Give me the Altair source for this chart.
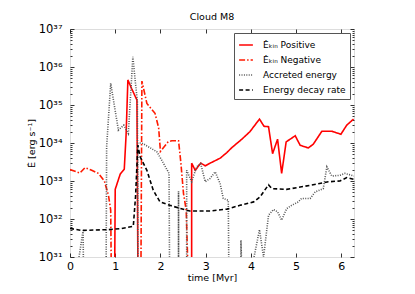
import altair as alt
import pandas as pd

FLOOR = 31.0  # log10 of the lower edge (values at/below are drawn to the axis floor)

# ---- data (time in Myr, log10 of energy rate in erg/s) ----
pos_a_t = [0.99, 1.0, 1.11, 1.2, 1.24, 1.28, 1.36, 1.48, 1.5]
pos_a_v = [31.0, 32.78, 33.18, 33.31, 34.2, 35.66, 35.44, 35.13, 31.0]
pos_b_t = [2.69, 2.69, 2.77, 2.89, 2.99, 3.1, 3.32, 3.47, 3.58, 3.8, 3.98, 4.19, 4.29, 4.39,
           4.48, 4.59, 4.68, 4.78, 4.98, 5.09, 5.27, 5.38, 5.57, 5.79, 5.99, 6.12, 6.27]
pos_b_v = [31.0, 33.47, 33.28, 33.47, 33.4, 33.47, 33.6, 33.75, 33.88, 34.1, 34.3, 34.63, 34.44, 34.43,
           33.72, 34.1, 33.2, 34.03, 34.19, 33.94, 33.87, 33.97, 34.31, 34.31, 34.23, 34.47, 34.63]

neg_a_t = [0.0, 0.15, 0.22, 0.33, 0.48, 0.63, 0.76, 0.85, 0.9, 0.91]
neg_a_v = [33.3, 33.24, 33.21, 33.35, 33.28, 33.2, 33.0, 32.63, 32.23, 31.0]
neg_b_t = [1.57, 1.59, 1.7, 1.88, 1.96, 2.0, 2.17, 2.25, 2.4, 2.45, 2.51, 2.57, 2.6]
neg_b_v = [31.0, 35.63, 35.04, 34.78, 34.4, 33.78, 34.03, 34.06, 34.06, 33.5, 32.67, 32.23, 31.0]

acc_a_t = [0.2, 0.29, 0.295]
acc_a_v = [31.0, 31.7, 31.0]
acc_b_t = [0.8, 0.81, 0.9, 1.07, 1.19, 1.29, 1.39, 1.44, 1.49, 1.5, 1.5, 1.59, 1.92, 2.07, 2.19, 2.2]
acc_b_v = [31.0, 33.9, 35.57, 34.34, 34.47, 34.25, 36.27, 35.66, 35.1, 31.0, 34.0, 34.0, 33.77, 33.46, 33.2, 31.0]
acc_c_t = [2.4, 2.4, 2.4, 2.4]
acc_c_v = [31.0, 32.73, 31.0, 32.73]
acc_d_t = [2.58, 2.58, 2.69, 2.8, 2.89, 2.99, 3.1, 3.21, 3.32, 3.39, 3.5, 3.51]
acc_d_v = [31.0, 33.28, 32.98, 33.37, 33.46, 32.98, 33.07, 33.24, 32.93, 32.54, 32.49, 31.0]
acc_e_t = [3.78, 3.78, 3.79]
acc_e_v = [31.0, 31.44, 31.0]
acc_f_t = [4.07, 4.19, 4.28, 4.39, 4.5, 4.59, 4.68, 4.79, 4.9, 5.05, 5.12, 5.31, 5.42, 5.6,
           5.68, 5.79, 5.97, 6.08, 6.28]
acc_f_v = [31.0, 31.72, 31.0, 32.1, 32.25, 32.19, 31.97, 32.27, 32.36, 32.45, 32.54, 32.54, 32.71, 32.8,
           33.37, 33.13, 33.15, 33.2, 33.13]

dec_t = [0.0, 0.26, 0.85, 1.14, 1.4, 1.45, 1.5, 1.55, 1.7, 1.84, 1.99, 2.21, 2.43, 2.65, 3.1,
         3.47, 3.76, 4.06, 4.2, 4.39, 4.46, 4.79, 5.09, 5.46, 5.71, 5.97, 6.12, 6.28]
dec_v = [31.75, 31.7, 31.72, 31.75, 31.81, 32.6, 33.94, 33.64, 33.28, 32.76, 32.45, 32.36, 32.28, 32.21, 32.21,
         32.26, 32.36, 32.45, 32.58, 32.9, 32.8, 32.78, 32.84, 32.92, 32.98, 33.0, 33.09, 33.04]

series_names = ["Ėₖᵢₙ Positive", "Ėₖᵢₙ Negative", "Accreted energy", "Energy decay rate"]
series_colors = ["#ff0000", "#ff1a00", "#555555", "#000000"]
series_dashes = [[1, 0], [6, 2, 1.5, 2], [1, 1.4], [4, 2.5]]
series_widths = [1.6, 1.6, 1.1, 1.0]

x_ticks = [0, 1, 2, 3, 4, 5, 6]
y_major = [1e31, 1e32, 1e33, 1e34, 1e35, 1e36, 1e37]
y_minor = [m * 10.0 ** e for e in range(31, 37) for m in range(2, 10)]

segments = [
    (series_names[0], "p1", pos_a_t, pos_a_v),
    (series_names[0], "p2", pos_b_t, pos_b_v),
    (series_names[1], "n1", neg_a_t, neg_a_v),
    (series_names[1], "n2", neg_b_t, neg_b_v),
    (series_names[2], "a1", acc_a_t, acc_a_v),
    (series_names[2], "a2", acc_b_t, acc_b_v),
    (series_names[2], "a3", acc_c_t, acc_c_v),
    (series_names[2], "a4", acc_d_t, acc_d_v),
    (series_names[2], "a5", acc_e_t, acc_e_v),
    (series_names[2], "a6", acc_f_t, acc_f_v),
    (series_names[3], "d1", dec_t, dec_v),
]
rows = []
i = 0
for name, key, ts, vs in segments:
    for t, v in zip(ts, vs):
        rows.append({"t": t, "E": 10.0 ** v, "series": name, "key": key, "i": i})
        i += 1
df = pd.DataFrame(rows)

W, H = 284, 228
FONT = "DejaVu Sans"

xscale = alt.Scale(domain=[0, 6.28], nice=False, zero=False)
yscale = alt.Scale(type="log", domain=[1e31, 1e37], nice=False)

sup = {"31": "³¹", "32": "³²", "33": "³³", "34": "³⁴", "35": "³⁵", "36": "³⁶", "37": "³⁷"}
expr = "''"
for k in ["37", "36", "35", "34", "33", "32", "31"]:
    expr = f"(round(log(datum.value)/LN10)=={k} ? '10{sup[k]}' : {expr})"

legend_kw = dict(
    title=None, orient="none", legendX=164, legendY=4,
    fillColor="white", strokeColor="#555555", padding=4,
    symbolType="stroke", symbolSize=190, symbolStrokeWidth=1.4,
    labelFontSize=9, labelFont=FONT, labelOffset=9, rowPadding=2, cornerRadius=0,
)

main = alt.Chart(df).mark_line(clip=True).encode(
    x=alt.X("t:Q", scale=xscale, axis=alt.Axis(
        values=x_ticks, title="time [Myr]", tickSize=0, domain=False, grid=False,
        labelPadding=3, labelFontSize=11, labelFlush=False, titleFontSize=9.5,
        titleFontWeight="normal", titlePadding=1, labelColor="black", titleColor="black")),
    y=alt.Y("E:Q", scale=yscale, axis=alt.Axis(
        values=y_major, labelExpr=expr, title="Ė [erg s⁻¹]", tickSize=0, domain=False,
        grid=False, labelPadding=8, labelFontSize=11.5, labelFlush=False, labelOverlap=False,
        titleFontSize=9.5, titleFontWeight="normal", titlePadding=2,
        labelColor="black", titleColor="black")),
    color=alt.Color("series:N", scale=alt.Scale(domain=series_names, range=series_colors),
                    legend=alt.Legend(**legend_kw)),
    strokeDash=alt.StrokeDash("series:N", scale=alt.Scale(domain=series_names, range=series_dashes),
                              legend=alt.Legend(**legend_kw)),
    strokeWidth=alt.StrokeWidth("series:N", scale=alt.Scale(domain=series_names, range=series_widths),
                                legend=None),
    detail="key:N",
    order="i:Q",
)

dummy = pd.DataFrame({"t": dec_t, "E": [10.0 ** v for v in dec_v]})


def tick_layer(channel, orient, offset, size, values):
    ax = alt.Axis(orient=orient, offset=offset, tickSize=size, values=values, labels=False,
                  domain=False, grid=False, title=None, tickColor="black", tickWidth=0.8)
    if channel == "y":
        enc = dict(x=alt.X("t:Q", scale=xscale, axis=None), y=alt.Y("E:Q", scale=yscale, axis=ax))
    else:
        enc = dict(x=alt.X("t:Q", scale=xscale, axis=ax), y=alt.Y("E:Q", scale=yscale, axis=None))
    return alt.Chart(dummy).mark_line(opacity=0).encode(**enc)


ticks = [
    tick_layer("y", "left", -4, 4, y_major),
    tick_layer("y", "left", -2, 2, y_minor),
    tick_layer("y", "left", -W, 4, y_major),
    tick_layer("y", "left", -W, 2, y_minor),
    tick_layer("x", "top", -H, 4, x_ticks),
    tick_layer("x", "bottom", -H, 4, x_ticks),
]

chart = alt.layer(main, *ticks).resolve_axis(x="independent", y="independent").properties(
    width=W, height=H,
    title=alt.TitleParams("Cloud M8", fontSize=9.5, fontWeight="normal", font=FONT, offset=2,
                          anchor="middle", color="black"),
    autosize=alt.AutoSizeParams(type="none"),
    padding={"left": 62, "top": 21, "right": 40, "bottom": 25},
).configure_view(stroke="black", strokeWidth=1).configure(font=FONT)

chart.save("out.html", embed_options={"renderer": "svg", "actions": False})
